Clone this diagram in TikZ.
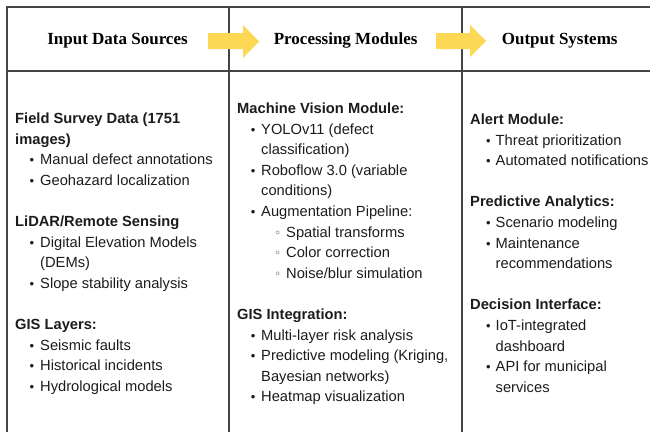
\documentclass[tikz,border=0pt]{standalone}
\usepackage{fontspec}
\setmainfont{Liberation Sans}
\newfontfamily\hdfont{Liberation Serif}
\definecolor{lin}{HTML}{444444}
\definecolor{arrowyellow}{HTML}{FDD855}
\definecolor{txt}{HTML}{1C1C1C}
\definecolor{subb}{HTML}{777777}
\begin{document}
\begin{tikzpicture}[x=1pt,y=-1pt,
  hdr/.style={font=\hdfont\bfseries\fontsize{17}{20}\selectfont, anchor=base, inner sep=0pt, text=black},
  body/.style={font=\fontsize{14.7}{20.6}\selectfont, anchor=base west, inner sep=0pt, text=txt},
  bold/.style={body, font=\bfseries\fontsize{14.7}{20.6}\selectfont},
  bulletmark/.style={body, anchor=base, font=\fontsize{13}{20.6}\selectfont},
  subbullet/.style={body, anchor=base, text=subb},
  rule/.style={draw=lin, line width=2pt},
  blockarrow/.style={fill=arrowyellow, draw=none}
]
\useasboundingbox (0,0) rectangle (650,432);
\fill[white] (0,0) rectangle (650,432);

% table lines
\draw[rule] (650,7) -- (7,7) -- (7,432);
\draw[rule] (7,70.7) -- (650,70.7);
\draw[rule] (229,7) -- (229,432);
\draw[rule] (462,7) -- (462,432);

% block arrows
\fill[blockarrow] (208,33) -- (243,33) -- (243,25) -- (259,41.5) -- (243,58) -- (243,49) -- (208,49) -- cycle;
\fill[blockarrow] (436,33) -- (470,33) -- (470,25) -- (486,41) -- (470,57) -- (470,49) -- (436,49) -- cycle;

% headers
\node[hdr] (h1) at (117.5,44.5) {Input Data Sources};
\node[hdr] (h2) at (345.7,44.5) {Processing Modules};
\node[hdr] (h3) at (559.7,44.5) {Output Systems};

% ---- left column
\foreach \r/\t in {0/{Field Survey Data (1751}, 1/{images)}, 5/{LiDAR/Remote Sensing}, 10/{GIS Layers:}}
  \node[bold] (lh\r) at (15,{123.5+\r*20.6}) {\t};
\foreach \r/\t in {2/{Manual defect annotations}, 3/{Geohazard localization}, 6/{Digital Elevation Models}, 8/{Slope stability analysis}, 11/{Seismic faults}, 12/{Historical incidents}, 13/{Hydrological models}}{
  \node[bulletmark] (lb\r) at (32,{123.5+\r*20.6}) {•};
  \node[body] (lt\r) at (40,{123.5+\r*20.6}) {\t};
}
\node[body] (lt7) at (40,{123.5+7*20.6}) {(DEMs)};

% ---- middle column
\foreach \r/\t in {0/{Machine Vision Module:}, 10/{GIS Integration:}}
  \node[bold] (mh\r) at (237,{113.5+\r*20.6}) {\t};
\foreach \r/\t in {1/{YOLOv11 (defect}, 3/{Roboflow 3.0 (variable}, 5/{Augmentation Pipeline:}, 11/{Multi-layer risk analysis}, 12/{Predictive modeling (Kriging,}, 14/{Heatmap visualization}}{
  \node[bulletmark] (mb\r) at (253.2,{113.5+\r*20.6}) {•};
  \node[body] (mt\r) at (261,{113.5+\r*20.6}) {\t};
}
\foreach \r/\t in {2/{classification)}, 4/{conditions)}, 13/{Bayesian networks)}}
  \node[body] (mt\r) at (261,{113.5+\r*20.6}) {\t};
\foreach \r/\t in {6/{Spatial transforms}, 7/{Color correction}, 8/{Noise/blur simulation}}{
  \node[subbullet] (ms\r) at (277.8,{113.5+\r*20.6}) {◦};
  \node[body] (mt\r) at (286,{113.5+\r*20.6}) {\t};
}

% ---- right column
\foreach \r/\t in {0/{Alert Module:}, 4/{Predictive Analytics:}, 9/{Decision Interface:}}
  \node[bold] (rh\r) at (470,{124.4+\r*20.6}) {\t};
\foreach \r/\t in {1/{Threat prioritization}, 2/{Automated notifications}, 5/{Scenario modeling}, 6/{Maintenance}, 10/{IoT-integrated}, 12/{API for municipal}}{
  \node[bulletmark] (rb\r) at (488.3,{124.4+\r*20.6}) {•};
  \node[body] (rt\r) at (495.5,{124.4+\r*20.6}) {\t};
}
\foreach \r/\t in {7/{recommendations}, 11/{dashboard}, 13/{services}}
  \node[body] (rt\r) at (495.5,{124.4+\r*20.6}) {\t};
\end{tikzpicture}
\end{document}
